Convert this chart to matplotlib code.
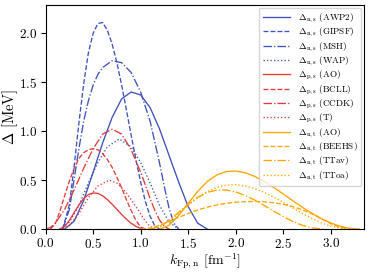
import matplotlib
matplotlib.use("Agg")
import matplotlib.pyplot as plt

plt.rcParams["font.family"] = "serif"
plt.rcParams["font.serif"] = ["cmr10"]
plt.rcParams["mathtext.fontset"] = "cm"
plt.rcParams["axes.formatter.use_mathtext"] = True

# neutron singlet gaps
awp2_k = [0.2, 0.3, 0.4, 0.5, 0.6, 0.7, 0.8, 0.9, 1.0, 1.1, 1.2, 1.3, 1.4, 1.5, 1.6, 1.7]
awp2_d = [0.0, 0.08, 0.29, 0.58, 0.88, 1.14, 1.33, 1.40, 1.37, 1.24, 1.02, 0.75, 0.48, 0.23, 0.06, 0.0]
gipsf_k = [0.18, 0.25, 0.3, 0.35, 0.4, 0.45, 0.5, 0.55, 0.6, 0.65, 0.7, 0.75, 0.8, 0.85, 0.9, 0.95, 1.0, 1.05, 1.1, 1.15, 1.2]
gipsf_d = [0.0, 0.25, 0.64, 1.08, 1.48, 1.80, 2.00, 2.10, 2.11, 2.03, 1.89, 1.70, 1.47, 1.22, 0.96, 0.71, 0.48, 0.28, 0.13, 0.03, 0.0]
msh_k = [0.18, 0.25, 0.3, 0.35, 0.4, 0.45, 0.5, 0.55, 0.6, 0.7, 0.8, 0.9, 1.0, 1.1, 1.2, 1.25, 1.3, 1.35, 1.4]
msh_d = [0.0, 0.20, 0.51, 0.82, 1.10, 1.31, 1.47, 1.58, 1.65, 1.72, 1.70, 1.60, 1.40, 1.10, 0.67, 0.43, 0.21, 0.06, 0.0]
wap_k = [0.15, 0.25, 0.35, 0.45, 0.55, 0.65, 0.775, 0.9, 1.0, 1.1, 1.2, 1.3, 1.4]
wap_d = [0.0, 0.07, 0.24, 0.47, 0.68, 0.84, 0.92, 0.84, 0.68, 0.47, 0.24, 0.07, 0.0]

# proton singlet gaps
pao_k = [0.15, 0.2, 0.25, 0.3, 0.35, 0.4, 0.45, 0.5, 0.55, 0.6, 0.65, 0.7, 0.75, 0.8, 0.85, 0.9, 0.95, 1.0, 1.05]
pao_d = [0.0, 0.025, 0.088, 0.168, 0.246, 0.31, 0.352, 0.369, 0.364, 0.34, 0.301, 0.253, 0.201, 0.149, 0.101, 0.059, 0.027, 0.007, 0.0]
bcll_k = [0.05, 0.1, 0.15, 0.2, 0.25, 0.3, 0.35, 0.4, 0.45, 0.5, 0.55, 0.6, 0.65, 0.7, 0.75, 0.8, 0.85, 0.9, 0.95, 1.0, 1.05]
bcll_d = [0.0, 0.05, 0.18, 0.34, 0.49, 0.62, 0.72, 0.78, 0.81, 0.82, 0.81, 0.77, 0.71, 0.63, 0.53, 0.42, 0.30, 0.19, 0.09, 0.02, 0.0]
ccdk_k = [0.0, 0.05, 0.1, 0.2, 0.3, 0.4, 0.5, 0.6, 0.7, 0.8, 0.9, 1.0, 1.05, 1.1, 1.15, 1.2, 1.25, 1.3]
ccdk_d = [0.0, 0.015, 0.056, 0.20, 0.40, 0.62, 0.82, 0.97, 1.02, 0.97, 0.81, 0.58, 0.45, 0.31, 0.19, 0.09, 0.025, 0.0]
t_k = [0.18, 0.25, 0.35, 0.45, 0.55, 0.67, 0.75, 0.85, 0.95, 1.05, 1.1, 1.16]
t_d = [0.0, 0.035, 0.16, 0.32, 0.44, 0.50, 0.47, 0.37, 0.23, 0.08, 0.026, 0.0]

# neutron triplet gaps
nao_k = [1.2, 1.3, 1.4, 1.5, 1.6, 1.7, 1.8, 1.9, 2.0, 2.1, 2.2, 2.3, 2.4, 2.5, 2.6, 2.7, 2.8, 2.9, 3.0, 3.1, 3.2, 3.3]
nao_d = [0.0, 0.039, 0.137, 0.262, 0.384, 0.484, 0.552, 0.587, 0.593, 0.575, 0.538, 0.486, 0.425, 0.359, 0.29, 0.224, 0.162, 0.107, 0.062, 0.028, 0.007, 0.0]
beehs_k = [1.0, 1.1, 1.2, 1.3, 1.4, 1.5, 1.6, 1.7, 1.8, 1.9, 2.0, 2.1, 2.2, 2.3, 2.4, 2.5, 2.6, 2.7, 2.8, 2.9, 3.0, 3.1, 3.2]
beehs_d = [0.0, 0.010, 0.039, 0.077, 0.119, 0.159, 0.194, 0.223, 0.246, 0.262, 0.274, 0.280, 0.282, 0.278, 0.269, 0.253, 0.230, 0.198, 0.156, 0.107, 0.056, 0.016, 0.0]
ttav_k = [1.1, 1.2, 1.3, 1.4, 1.5, 1.6, 1.7, 1.8, 1.9, 2.0, 2.1, 2.2, 2.3, 2.4, 2.5, 2.6, 2.7, 2.8, 2.92]
ttav_d = [0.0, 0.024, 0.088, 0.170, 0.254, 0.324, 0.373, 0.398, 0.399, 0.379, 0.343, 0.296, 0.241, 0.183, 0.128, 0.078, 0.039, 0.012, 0.0]
ttoa_k = [1.1, 1.2, 1.3, 1.4, 1.5, 1.6, 1.7, 1.8, 1.9, 2.0, 2.1, 2.2, 2.3, 2.4, 2.5, 2.6, 2.7, 2.8, 2.9, 3.0, 3.1, 3.2]
ttoa_d = [0.0, 0.022, 0.079, 0.157, 0.242, 0.319, 0.381, 0.424, 0.448, 0.452, 0.44, 0.413, 0.374, 0.326, 0.273, 0.216, 0.161, 0.109, 0.064, 0.030, 0.008, 0.0]

blue = "#3f51bd"
red = "#e03a3a"
orange = "#ffa500"

fig = plt.figure(figsize=(3.74, 2.72), dpi=100)
ax = fig.add_axes([0.122, 0.158, 0.851, 0.824])

lw = 0.95
ax.plot(awp2_k, awp2_d, color=blue, ls="-", lw=lw, label=r"$\Delta_{\rm n,s}$ (AWP2)")
ax.plot(gipsf_k, gipsf_d, color=blue, ls="--", lw=lw, label=r"$\Delta_{\rm n,s}$ (GIPSF)")
ax.plot(msh_k, msh_d, color=blue, ls="-.", lw=lw, label=r"$\Delta_{\rm n,s}$ (MSH)")
ax.plot(wap_k, wap_d, color=blue, ls=":", lw=lw, label=r"$\Delta_{\rm n,s}$ (WAP)")
ax.plot(pao_k, pao_d, color=red, ls="-", lw=lw, label=r"$\Delta_{\rm p,s}$ (AO)")
ax.plot(bcll_k, bcll_d, color=red, ls="--", lw=lw, label=r"$\Delta_{\rm p,s}$ (BCLL)")
ax.plot(ccdk_k, ccdk_d, color=red, ls="-.", lw=lw, label=r"$\Delta_{\rm p,s}$ (CCDK)")
ax.plot(t_k, t_d, color=red, ls=":", lw=lw, label=r"$\Delta_{\rm p,s}$ (T)")
ax.plot(nao_k, nao_d, color=orange, ls="-", lw=lw, label=r"$\Delta_{\rm n,t}$ (AO)")
ax.plot(beehs_k, beehs_d, color=orange, ls="--", lw=lw, label=r"$\Delta_{\rm n,t}$ (BEEHS)")
ax.plot(ttav_k, ttav_d, color=orange, ls="-.", lw=lw, label=r"$\Delta_{\rm n,t}$ (TTav)")
ax.plot(ttoa_k, ttoa_d, color=orange, ls=":", lw=lw, label=r"$\Delta_{\rm n,t}$ (TToa)")

ax.set_xlim(0, 3.35)
ax.set_ylim(0, 2.29)
ax.set_xticks([0.0, 0.5, 1.0, 1.5, 2.0, 2.5, 3.0])
ax.set_yticks([0.0, 0.5, 1.0, 1.5, 2.0])
ax.tick_params(labelsize=9.5, pad=2.5)
ax.set_xlabel(r"$k_{\rm Fp,n}$ [fm$^{-1}$]", fontsize=10, labelpad=-0.3)
ax.set_ylabel(r"$\Delta$ [MeV]", fontsize=10.5, labelpad=-1)
ax.legend(loc="upper right", fontsize=6.6, handlelength=3.0, labelspacing=0.06,
          borderaxespad=0.3, borderpad=0.4, handletextpad=0.8)

fig.savefig("out.png", dpi=100)
